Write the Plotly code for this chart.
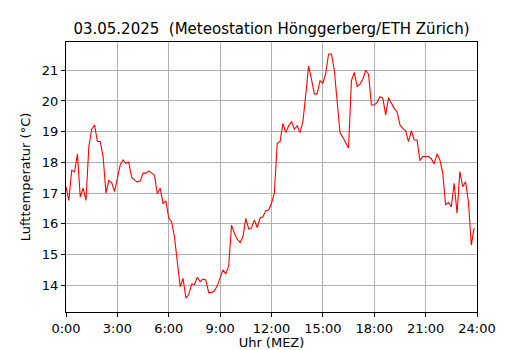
import plotly.graph_objects as go

# 10-minute temperature readings, 00:00 .. 23:50
temps = [
    17.21, 16.76, 17.75, 17.69, 18.27, 16.87, 17.16, 16.76, 18.51, 19.08,
    19.22, 18.68, 18.68, 18.19, 17.00, 17.41, 17.34, 17.05, 17.48, 17.92,
    18.08, 17.97, 18.01, 17.52, 17.43, 17.36, 17.40, 17.65, 17.65, 17.72,
    17.66, 17.58, 16.98, 17.16, 16.66, 16.75, 16.18, 16.07, 15.58, 14.77,
    13.95, 14.23, 13.58, 13.69, 14.04, 14.03, 14.26, 14.12, 14.20, 14.17,
    13.76, 13.76, 13.82, 13.98, 14.23, 14.50, 14.37, 14.63, 15.96, 15.69,
    15.50, 15.39, 15.58, 16.18, 15.84, 15.86, 16.13, 15.88, 16.19, 16.23,
    16.43, 16.45, 16.67, 17.00, 18.62, 18.68, 19.27, 18.97, 19.19, 19.33,
    19.08, 19.19, 18.97, 19.33, 20.20, 21.14, 20.71, 20.23, 20.23, 20.66,
    20.58, 20.90, 21.53, 21.53, 21.01, 20.03, 18.97, 18.82, 18.65, 18.47,
    20.66, 20.93, 20.47, 20.55, 20.71, 21.00, 20.87, 19.87, 19.87, 19.95,
    20.14, 20.09, 19.55, 20.11, 19.93, 19.76, 19.65, 19.22, 19.11, 19.03,
    18.68, 19.03, 18.73, 18.73, 18.06, 18.19, 18.19, 18.19, 18.12, 17.95,
    18.28, 18.08, 17.65, 16.62, 16.69, 16.56, 17.32, 16.35, 17.70, 17.21,
    17.37, 16.72, 15.31, 15.86,
]
hours = [i * 10 / 60 for i in range(len(temps))]

x_tickvals = [0, 3, 6, 9, 12, 15, 18, 21, 24]
x_ticktext = ["0:00", "3:00", "6:00", "9:00", "12:00", "15:00", "18:00", "21:00", "24:00"]
y_tickvals = [14, 15, 16, 17, 18, 19, 20, 21]

title_text = "03.05.2025  (Meteostation Hönggerberg/ETH Zürich)"

fig = go.Figure()
fig.add_trace(go.Scatter(x=hours, y=temps, mode="lines",
                         line=dict(color="#ff0000", width=1.1),
                         showlegend=False, hoverinfo="skip"))

font_family = "DejaVu Sans"
fig.update_layout(
    width=530, height=350,
    margin=dict(l=66, r=53, t=42, b=38, autoexpand=False),
    paper_bgcolor="white", plot_bgcolor="white",
    font=dict(family=font_family, size=13, color="black"),
    title=dict(text=title_text, font=dict(family=font_family, size=15, color="black"),
               x=271.5 / 530, xref="container", xanchor="center",
               y=1 - 29 / 350, yref="container", yanchor="middle"),
)
fig.update_xaxes(
    range=[0, 24], tickmode="array", tickvals=x_tickvals, ticktext=x_ticktext,
    showgrid=True, gridcolor="#b0b0b0", gridwidth=1,
    showline=True, mirror=True, linecolor="black", linewidth=1,
    ticks="outside", ticklen=4, tickcolor="black", tickwidth=1,
    zeroline=False, automargin=False,
    tickfont=dict(size=13),
    title=dict(text="Uhr (MEZ)", font=dict(size=13), standoff=2),
)
fig.update_yaxes(
    range=[13.13, 21.92], tickmode="array", tickvals=y_tickvals,
    showgrid=True, gridcolor="#b0b0b0", gridwidth=1,
    showline=True, mirror=True, linecolor="black", linewidth=1,
    ticks="outside", ticklen=4, tickcolor="black", tickwidth=1,
    zeroline=False, automargin=False,
    tickfont=dict(size=13),
    title=dict(text="Lufttemperatur (°C)", font=dict(size=13), standoff=8),
)

fig.write_html(
    "out.html",
    config={"displayModeBar": False, "staticPlot": True},
    post_script="document.body.style.margin='0';document.body.style.padding='0';"
                "document.documentElement.style.overflow='hidden';",
)
